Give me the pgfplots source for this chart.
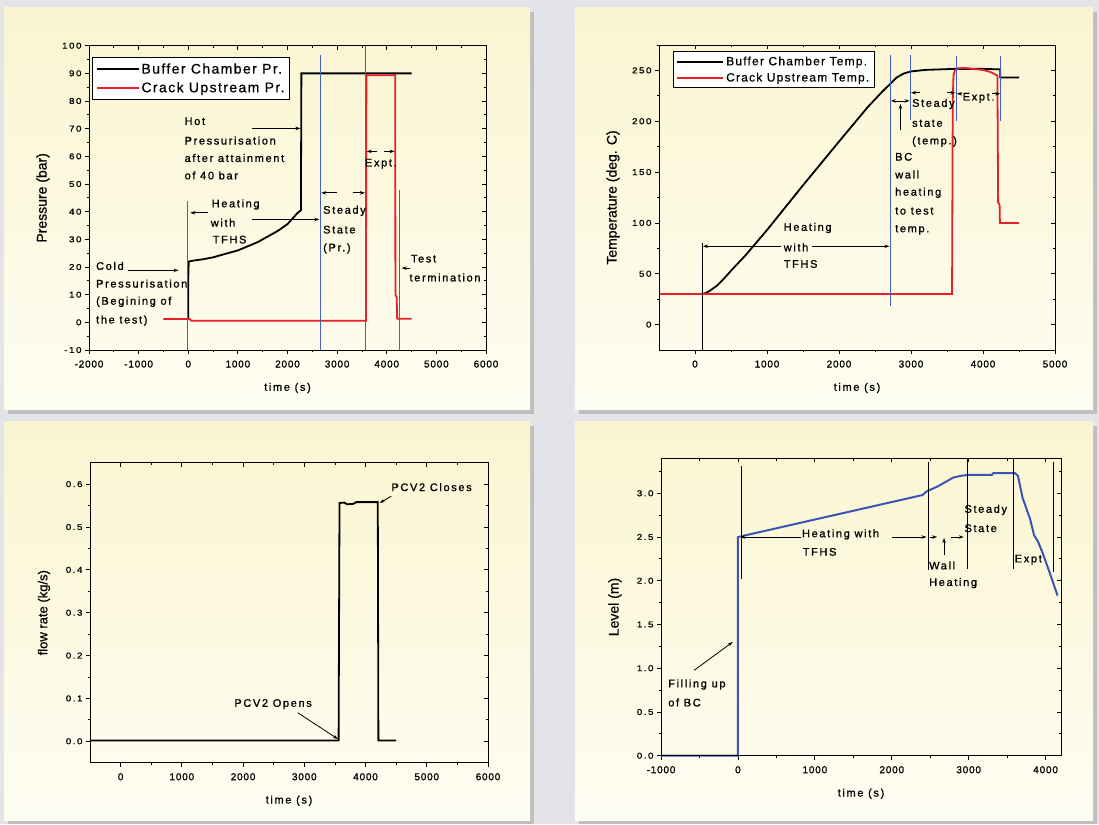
\documentclass[border=0pt]{standalone}
\usepackage{pgfplots}
\pgfplotsset{compat=1.18}
\usepackage{fontspec}
\setmainfont{Liberation Sans}
\newfontfamily\annfont[LetterSpace=15,FakeBold=1]{Liberation Sans}
\newfontfamily\labfont[FakeBold=0.6]{Liberation Sans}
\newfontfamily\legfont[LetterSpace=10,FakeBold=0.6]{Liberation Sans}
\newfontfamily\xtickfont[LetterSpace=8,FakeBold=1]{Liberation Sans}
\newfontfamily\ytickfont[LetterSpace=18,FakeStretch=1.15,FakeBold=1]{Liberation Sans}
\usetikzlibrary{arrows.meta}
\definecolor{bline}{RGB}{70,95,195}
\definecolor{rline}{RGB}{232,30,40}
\definecolor{lvl}{RGB}{60,85,180}
\definecolor{bg}{RGB}{226,228,231}
\definecolor{pyel}{RGB}{250,245,208}
\definecolor{pwhite}{RGB}{254,253,242}
\pgfplotsset{
  base/.style={scale only axis, clip=false, axis line style={line width=0.9pt},
    tick style={black, line width=0.8pt},
    major tick length=4pt, minor tick length=2.5pt,
    /pgf/number format/1000 sep={},
    /pgf/number format/assume math mode=true},
  outer/.style={base, tick align=outside, xtick pos=lower, ytick pos=lower,
    xticklabel style={font=\xtickfont\fontsize{10}{11}\selectfont, yshift=-3pt},
    yticklabel style={font=\ytickfont\fontsize{8.5}{9}\selectfont},
    xlabel style={font=\annfont\fontsize{11}{12}\selectfont, at={([yshift=-38pt]axis description cs:0.5,0)}, anchor=center},
    ylabel style={font=\labfont\fontsize{14}{15}\selectfont, at={([xshift=-46pt]axis description cs:0,0.5)}, anchor=center}},
  inner/.style={base, tick align=inside, xtick pos=upper, ytick pos=upper, xticklabels={}, yticklabels={}},
}
\tikzset{ann/.style={font=\annfont\fontsize{11}{12}\selectfont, anchor=west, inner sep=0pt},
  arr/.style={-{Stealth[length=5pt,width=3.5pt]}, line width=0.8pt, black}}
\begin{document}
\begin{tikzpicture}[x=1pt,y=1pt]
% background and panels
\fill[bg] (0,0) rectangle (1099,824);
\foreach \px/\py/\qx/\qy in {4/414/530/816, 575/414/1093/816, 4/4/530/402, 575/4/1093/402}{
  \fill[black!25] (\px+4,\py-4) rectangle (\qx+4,\qy-4);
  \shade[top color=pyel, bottom color=pwhite] (\px,\py) rectangle (\qx,\qy);
}

% ---------------- Panel 1: Pressure ----------------
\begin{axis}[outer, at={(89pt,474pt)}, anchor=south west, width=397pt, height=304.3pt,
  xmin=-2000, xmax=6000, ymin=-10, ymax=100,
  xtick={-2000,-1000,...,6000}, minor xtick={-1500,-500,...,5500},
  ytick={-10,0,...,100}, minor ytick={-5,5,...,95},
  xlabel={time (s)}, ylabel={Pressure (bar)},
  legend cell align=left,
  legend style={at={(0.008,0.963)}, anchor=north west, draw=black, line width=1pt, fill=white,
    font=\legfont\fontsize{14}{16}\selectfont, inner xsep=3pt, inner ysep=4pt, row sep=3pt},
  legend image code/.code={\draw[#1] (0pt,0pt) -- (42pt,0pt);}]
\addplot[black, line width=1.8pt] coordinates {(0,1) (0,16) (10,22) (100,22.3) (300,22.8) (500,23.5) (700,24.5) (1000,26) (1200,27.5) (1400,29) (1600,31) (1800,33) (2000,35.5) (2100,37.5) (2200,39.5) (2270,40.5) (2280,90) (4500,90)};
\addlegendentry{Buffer Chamber Pr.}
\addplot[rline, line width=1.8pt] coordinates {(-500,1.2) (30,1.2) (60,0.6) (3580,0.6) (3590,89.3) (4170,89.3) (4175,10) (4200,9) (4210,1.3) (4500,1.3)};
\addlegendentry{Crack Upstream Pr.}
\addplot[bline, line width=0.9pt, forget plot] coordinates {(-20,44) (-20,-10)};
\addplot[bline, line width=0.9pt, forget plot] coordinates {(2655,96.5) (2655,-10)};
\addplot[bline, line width=0.9pt, forget plot] coordinates {(3570,100) (3570,-10)};
\addplot[bline, line width=0.9pt, forget plot] coordinates {(4255,48) (4255,-10)};
\node[ann] at (axis cs:-1860,20.4) {Cold};
\node[ann] at (axis cs:-1860,14) {Pressurisation};
\node[ann] at (axis cs:-1860,7.4) {(Begining of};
\node[ann] at (axis cs:-1860,0.6) {the test)};
\node[ann] at (axis cs:-77,72.7) {Hot};
\node[ann] at (axis cs:-77,65.7) {Pressurisation};
\node[ann] at (axis cs:-77,59.4) {after attainment};
\node[ann] at (axis cs:-77,53.1) {of 40 bar};
\node[ann] at (axis cs:470,42.6) {Heating};
\node[ann] at (axis cs:450,36) {with};
\node[ann] at (axis cs:490,29.9) {TFHS};
\node[ann] at (axis cs:2716,40.3) {Steady};
\node[ann] at (axis cs:2716,33.5) {State};
\node[ann] at (axis cs:2716,26.7) {(Pr.)};
\node[ann] at (axis cs:3558,57.3) {Expt.};
\node[ann] at (axis cs:4484,23) {Test};
\node[ann] at (axis cs:4456,16.2) {termination};
\draw[arr] (axis cs:-1214,18.8) -- (axis cs:-196,18.8);
\draw[arr] (axis cs:1277,70.1) -- (axis cs:2260,70.1);
\draw[arr] (axis cs:400,39.6) -- (axis cs:40,39.6);
\draw[arr] (axis cs:1277,37.2) -- (axis cs:2640,37.2);
\draw[arr] (axis cs:2996,46.8) -- (axis cs:2680,46.8);
\draw[arr] (axis cs:3312,46.8) -- (axis cs:3560,46.8);
\draw[arr] (axis cs:3800,61.8) -- (axis cs:3595,61.8);
\draw[arr] (axis cs:3940,61.8) -- (axis cs:4160,61.8);
\draw[arr] (axis cs:4460,19.6) -- (axis cs:4300,19.6);
\end{axis}
\begin{axis}[inner, at={(89pt,474pt)}, anchor=south west, width=397pt, height=304.3pt,
  xmin=-2000, xmax=6000, ymin=-10, ymax=100,
  xtick={-2000,-1000,...,6000}, minor xtick={-1500,-500,...,5500},
  ytick={-10,0,...,100}, minor ytick={-5,5,...,95}]
\end{axis}

% ---------------- Panel 2: Temperature ----------------
\begin{axis}[outer, at={(659pt,474pt)}, anchor=south west, width=396pt, height=305pt,
  xmin=-500, xmax=5000, ymin=-25, ymax=275,
  xtick={0,1000,...,5000}, minor xtick={500,1500,...,4500},
  ytick={0,50,...,250}, minor ytick={25,75,...,275},
  xlabel={time (s)}, ylabel={Temperature (deg. C)},
  legend cell align=left,
  legend style={at={(0.035,0.98)}, anchor=north west, draw=black, line width=1pt, fill=white,
    font=\legfont\fontsize{12}{14}\selectfont, inner xsep=3pt, inner ysep=3pt, row sep=2pt},
  legend image code/.code={\draw[#1] (0pt,0pt) -- (46pt,0pt);}]
\addplot[black, line width=1.8pt] coordinates {(100,30) (150,31) (200,33) (300,38) (400,45) (500,53) (700,68) (1000,93) (1500,137) (2000,180) (2400,214) (2600,229) (2700,236) (2800,243) (2900,247) (3000,249) (3200,250.5) (3400,251) (3600,251.5) (4000,251.5) (4240,251) (4240,243) (4500,243)};
\addlegendentry{Buffer Chamber Temp.}
\addplot[rline, line width=1.8pt] coordinates {(-500,30) (3570,30) (3580,220) (3590,245) (3610,250) (3650,252) (3750,252.5) (3850,251.5) (4000,250.5) (4100,248.5) (4200,245) (4210,120) (4230,118) (4235,100) (4500,100)};
\addlegendentry{Crack Upstream Temp.}
\addplot[bline, line width=0.9pt, forget plot] coordinates {(2710,265) (2710,18)};
\addplot[bline, line width=0.9pt, forget plot] coordinates {(2990,265) (2990,201)};
\addplot[bline, line width=0.9pt, forget plot] coordinates {(3628,264) (3628,200)};
\addplot[bline, line width=0.9pt, forget plot] coordinates {(4248,264) (4248,200)};
\addplot[black, line width=0.8pt, forget plot] coordinates {(100,-25) (100,80)};
\node[ann] at (axis cs:1230,95) {Heating};
\node[ann] at (axis cs:1230,76) {with};
\node[ann] at (axis cs:1230,59.6) {TFHS};
\node[ann] at (axis cs:2778,165) {BC};
\node[ann] at (axis cs:2778,147.6) {wall};
\node[ann] at (axis cs:2778,129.6) {heating};
\node[ann] at (axis cs:2778,111.7) {to test};
\node[ann] at (axis cs:2778,93.2) {temp.};
\node[ann] at (axis cs:3013,217) {Steady};
\node[ann] at (axis cs:3013,198) {state};
\node[ann] at (axis cs:3013,180) {(temp.)};
\node[ann] at (axis cs:3716,223) {Expt.};
\draw[arr] (axis cs:1200,77) -- (axis cs:110,77);
\draw[arr] (axis cs:1620,77) -- (axis cs:2700,77);
\draw[arr] (axis cs:2850,220) -- (axis cs:2720,220);
\draw[arr] (axis cs:2850,220) -- (axis cs:2980,220);
\draw[arr] (axis cs:2853,191) -- (axis cs:2853,217);
\draw[arr] (axis cs:3130,228) -- (axis cs:3000,228);
\draw[arr] (axis cs:3500,228) -- (axis cs:3618,228);
\draw[arr] (axis cs:3710,227) -- (axis cs:3636,227);
\draw[arr] (axis cs:4130,227) -- (axis cs:4240,227);
\end{axis}
\begin{axis}[inner, at={(659pt,474pt)}, anchor=south west, width=396pt, height=305pt,
  xmin=-500, xmax=5000, ymin=-25, ymax=275,
  xtick={0,1000,...,5000}, minor xtick={500,1500,...,4500},
  ytick={0,50,...,250}, minor ytick={25,75,...,275}]
\end{axis}

% ---------------- Panel 3: Flow rate ----------------
\begin{axis}[outer, at={(90pt,61.3pt)}, anchor=south west, width=398pt, height=300pt,
  xmin=-500, xmax=6000, ymin=-0.05, ymax=0.65,
  xtick={0,1000,...,6000}, minor xtick={500,1500,...,5500},
  ytick={0,0.1,...,0.6}, minor ytick={0.05,0.15,...,0.55},
  yticklabel style={/pgf/number format/.cd, fixed, fixed zerofill, precision=1},
  xlabel={time (s)}, ylabel={flow rate (kg/s)},
  ylabel style={font=\labfont\fontsize{13}{14}\selectfont}]
\addplot[black, line width=1.8pt] coordinates {(-500,0.002) (3560,0.002) (3575,0.556) (3650,0.557) (3700,0.553) (3800,0.554) (3850,0.558) (4200,0.558) (4210,0.002) (4500,0.002)};
\node[ann] at (axis cs:4420,0.593) {PCV2 Closes};
\node[ann] at (axis cs:1855,0.0867) {PCV2 Opens};
\draw[arr] (axis cs:4421,0.572) -- (axis cs:4233,0.556);
\draw[arr] (axis cs:2892,0.0666) -- (axis cs:3548,0.0054);
\end{axis}
\begin{axis}[inner, at={(90pt,61.3pt)}, anchor=south west, width=398pt, height=300pt,
  xmin=-500, xmax=6000, ymin=-0.05, ymax=0.65,
  xtick={0,1000,...,6000}, minor xtick={500,1500,...,5500},
  ytick={0,0.1,...,0.6}, minor ytick={0.05,0.15,...,0.55}]
\end{axis}

% ---------------- Panel 4: Level ----------------
\begin{axis}[outer, at={(661pt,68.3pt)}, anchor=south west, width=400pt, height=297.4pt,
  xmin=-1000, xmax=4200, ymin=0, ymax=3.4,
  xtick={-1000,0,...,4000}, minor xtick={-500,500,...,3500},
  ytick={0,0.5,...,3.0}, minor ytick={0.25,0.75,...,3.25},
  yticklabel style={/pgf/number format/.cd, fixed, fixed zerofill, precision=1},
  xlabel={time (s)}, ylabel={Level (m)}]
\addplot[lvl, line width=2pt] coordinates {(-1000,0) (0,0) (0,2.5) (50,2.51) (500,2.6) (1000,2.7) (1500,2.8) (2000,2.9) (2400,2.98) (2450,3.02) (2600,3.08) (2800,3.18) (2900,3.2) (3000,3.21) (3300,3.21) (3320,3.23) (3600,3.23) (3640,3.2) (3700,2.95) (3800,2.7) (3850,2.52) (3900,2.45) (3960,2.32) (4050,2.1) (4155,1.83)};
\addplot[black, line width=0.8pt] coordinates {(45,3.31) (45,2.02)};
\addplot[black, line width=0.8pt] coordinates {(2475,3.36) (2475,2.12)};
\addplot[black, line width=0.8pt] coordinates {(2988,3.4) (2988,2.14)};
\addplot[black, line width=0.8pt] coordinates {(3579,3.4) (3579,2.13)};
\addplot[black, line width=0.8pt] coordinates {(4101,3.36) (4101,2.1)};
\node[ann] at (axis cs:831,2.53) {Heating with};
\node[ann] at (axis cs:840,2.33) {TFHS};
\node[ann] at (axis cs:2484,2.175) {Wall};
\node[ann] at (axis cs:2484,1.973) {Heating};
\node[ann] at (axis cs:2943,2.81) {Steady};
\node[ann] at (axis cs:2943,2.60) {State};
\node[ann] at (axis cs:3597,2.24) {Expt};
\node[ann] at (axis cs:-908,0.814) {Filling up};
\node[ann] at (axis cs:-908,0.608) {of BC};
\draw[arr] (axis cs:820,2.5) -- (axis cs:30,2.5);
\draw[arr] (axis cs:1998,2.5) -- (axis cs:2452,2.5);
\draw[arr] (axis cs:2498,2.5) -- (axis cs:2589,2.5);
\draw[arr] (axis cs:2680,2.29) -- (axis cs:2680,2.49);
\draw[arr] (axis cs:2770,2.5) -- (axis cs:2935,2.5);
\draw[arr] (axis cs:-568,0.977) -- (axis cs:-68,1.30);
\end{axis}
\begin{axis}[inner, at={(661pt,68.3pt)}, anchor=south west, width=400pt, height=297.4pt,
  xmin=-1000, xmax=4200, ymin=0, ymax=3.4,
  xtick={-1000,0,...,4000}, minor xtick={-500,500,...,3500},
  ytick={0,0.5,...,3.0}, minor ytick={0.25,0.75,...,3.25}]
\end{axis}
\end{tikzpicture}
\end{document}
